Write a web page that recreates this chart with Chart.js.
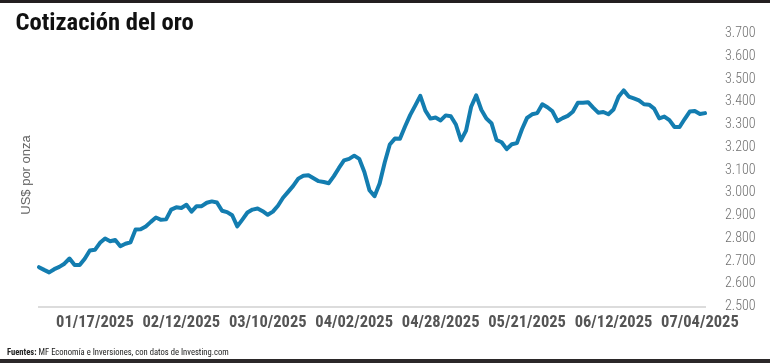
<!DOCTYPE html>
<html>
<head>
<meta charset="utf-8">
<script src="https://cdn.jsdelivr.net/npm/chart.js@4.4.1/dist/chart.umd.min.js"></script>
<style>
  html, body { margin: 0; padding: 0; background: #fff; }
  #wrap { position: relative; width: 770px; height: 363px; overflow: hidden; background: #fff; }
  #topbar { position: absolute; left: 0; top: 0; width: 770px; height: 3px; background: #231f20; }
  #botbar { position: absolute; left: 0; top: 359px; width: 770px; height: 4px; background: #2b2829; }
  #title { position: absolute; left: 15.5px; top: 9px; font-family: 'Roboto Condensed', sans-serif; font-weight: bold; font-size: 24.6px; line-height: 25px; color: #111; white-space: nowrap; }
  #ytitle { position: absolute; left: -34px; top: 167px; width: 120px; height: 16px; line-height: 16px; text-align: center; font-family: 'Liberation Sans', Arial, sans-serif; font-size: 13px; color: #666; transform: rotate(-90deg); white-space: nowrap; }
  #foot { position: absolute; left: 7px; top: 346.5px; font-family: 'Roboto Condensed', sans-serif; font-size: 8.6px; line-height: 10px; color: #222; white-space: nowrap; }
  #foot b { font-weight: bold; }
  canvas { position: absolute; left: 0; top: 0; }
</style>
</head>
<body>
<div id="wrap">
  <div id="topbar"></div>
  <canvas id="c" width="770" height="363"></canvas>
  <div id="title">Cotización del oro</div>
  <div id="ytitle">US$ por onza</div>
  <div id="foot"><b>Fuentes:</b> MF Economía e Inversiones, con datos de Investing.com</div>
  <div id="botbar"></div>
</div>
<script>
const dates = [
  "01/02/2025","01/03/2025","01/06/2025","01/07/2025","01/08/2025","01/09/2025","01/10/2025","01/13/2025","01/14/2025","01/15/2025","01/16/2025",
  "01/17/2025","01/21/2025","01/22/2025","01/23/2025","01/24/2025","01/27/2025","01/28/2025","01/29/2025","01/30/2025","01/31/2025",
  "02/03/2025","02/04/2025","02/05/2025","02/06/2025","02/07/2025","02/10/2025","02/11/2025","02/12/2025",
  "02/13/2025","02/14/2025","02/18/2025","02/19/2025","02/20/2025","02/21/2025","02/24/2025","02/25/2025","02/26/2025","02/27/2025","02/28/2025",
  "03/03/2025","03/04/2025","03/05/2025","03/06/2025","03/07/2025","03/10/2025",
  "03/11/2025","03/12/2025","03/13/2025","03/14/2025","03/17/2025","03/18/2025","03/19/2025","03/20/2025","03/21/2025",
  "03/24/2025","03/25/2025","03/26/2025","03/27/2025","03/28/2025","03/31/2025","04/01/2025","04/02/2025",
  "04/03/2025","04/04/2025","04/07/2025","04/08/2025","04/09/2025","04/10/2025","04/11/2025","04/14/2025","04/15/2025","04/16/2025","04/17/2025",
  "04/21/2025","04/22/2025","04/23/2025","04/24/2025","04/25/2025","04/28/2025",
  "04/29/2025","04/30/2025","05/01/2025","05/02/2025","05/05/2025","05/06/2025","05/07/2025","05/08/2025","05/09/2025",
  "05/12/2025","05/13/2025","05/14/2025","05/15/2025","05/16/2025","05/19/2025","05/20/2025","05/21/2025",
  "05/22/2025","05/23/2025","05/26/2025","05/27/2025","05/28/2025","05/29/2025","05/30/2025","06/01/2025",
  "06/02/2025","06/03/2025","06/04/2025","06/05/2025","06/06/2025","06/09/2025","06/10/2025","06/11/2025","06/12/2025",
  "06/13/2025","06/16/2025","06/17/2025","06/18/2025","06/19/2025","06/20/2025","06/23/2025","06/24/2025","06/25/2025","06/26/2025","06/27/2025",
  "06/29/2025","06/30/2025","07/01/2025","07/02/2025","07/03/2025","07/04/2025","07/07/2025"
];

const goldPrice = [
  2673,2661,2650,2664,2674,2688,2711,2682,2682,2710,2746,
  2749,2780,2799,2787,2792,2765,2776,2782,2839,2840,
  2852,2872,2891,2881,2883,2926,2936,2933,
  2947,2917,2941,2941,2956,2962,2957,2921,2915,2901,2852,
  2882,2913,2926,2931,2919,2903,
  2917,2943,2978,3004,3030,3062,3075,3077,3064,
  3051,3047,3042,3073,3109,3142,3149,3163,
  3149,3091,3011,2985,3041,3133,3212,3238,3237,3291,3341,
  3383,3426,3361,3326,3331,3318,
  3340,3336,3300,3230,3273,3378,3428,3365,3326,
  3306,3232,3222,3192,3213,3218,3279,3329,
  3345,3350,3389,3376,3358,3315,3328,3338,
  3356,3396,3396,3398,3374,3352,3355,3345,3366,
  3422,3450,3423,3415,3406,3389,3387,3370,3327,3335,3319,
  3289,3289,3324,3357,3359,3346,3350
];

const xTickLabels = ["01/17/2025","02/12/2025","03/10/2025","04/02/2025","04/28/2025","05/21/2025","06/12/2025","07/04/2025"];
const yMin = 2500, yMax = 3700, yStep = 100;

const cond = "'Roboto Condensed', sans-serif";

new Chart(document.getElementById('c'), {
  type: 'line',
  data: {
    labels: dates,
    datasets: [{
      data: goldPrice,
      borderColor: '#137db0',
      borderWidth: 4,
      pointRadius: 0,
      pointHoverRadius: 0,
      tension: 0,
      fill: false,
      borderJoinStyle: 'round',
      borderCapStyle: 'round'
    }]
  },
  options: {
    responsive: false,
    animation: false,
    events: [],
    layout: { padding: { left: 39, top: 33.5, right: 0, bottom: 0 } },
    plugins: { legend: { display: false }, title: { display: false }, tooltip: { enabled: false } },
    scales: {
      x: {
        type: 'category',
        offset: false,
        grid: { display: false, drawTicks: false },
        border: { display: true, color: '#dcdcdc', width: 2 },
        ticks: {
          autoSkip: false,
          maxRotation: 0,
          minRotation: 0,
          padding: 6,
          color: '#555',
          font: { family: cond, size: 16.5, weight: 'bold' },
          callback: function(v, i) {
            const l = this.getLabelForValue(v);
            return xTickLabels.includes(l) ? l : '';
          }
        },
        afterFit: s => { s.height = 363 - 306.5; }
      },
      y: {
        position: 'right',
        min: yMin,
        max: yMax,
        grid: { display: false, drawTicks: false },
        border: { display: false },
        ticks: {
          stepSize: yStep,
          padding: 20,
          color: '#707070',
          font: { family: cond, size: 14, weight: 300 },
          callback: v => v.toLocaleString('de-DE')
        },
        afterFit: s => { s.width = 770 - 705; }
      }
    }
  }
});
</script>
</body>
</html>
